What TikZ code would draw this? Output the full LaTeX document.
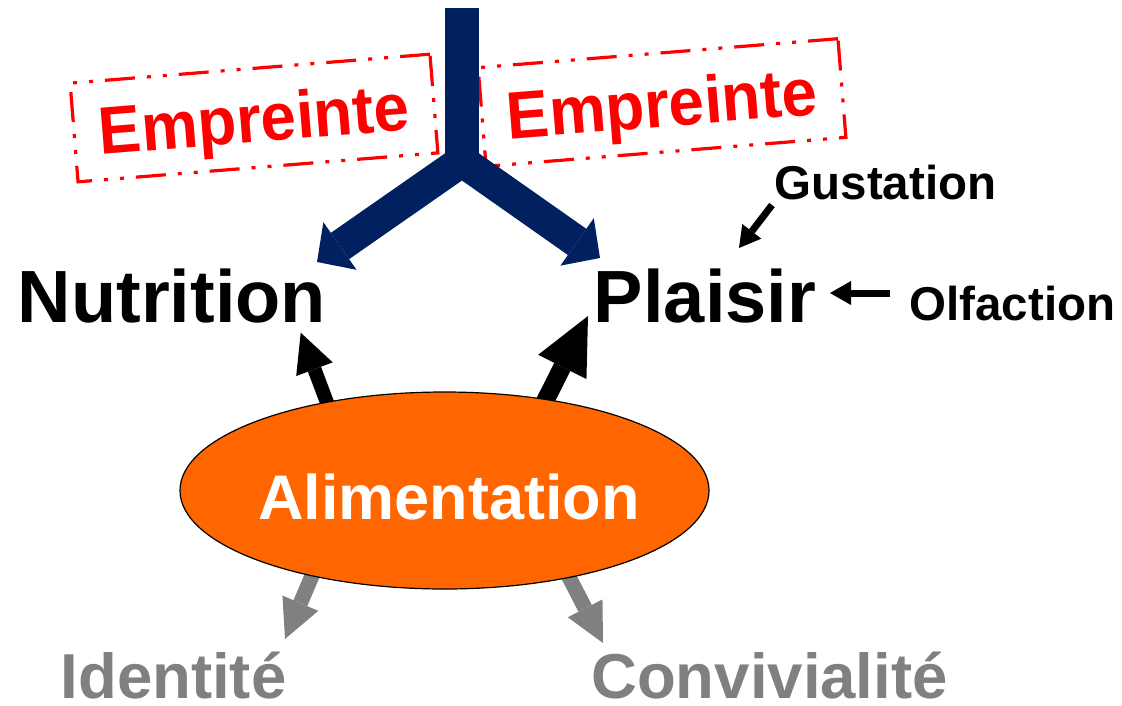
\documentclass[tikz,border=0pt]{standalone}
\usepackage{fontspec}
\usepackage{graphicx}
\setmainfont{Liberation Sans}
\usetikzlibrary{arrows.meta,shapes.geometric}
\definecolor{navyY}{RGB}{0,32,96}
\definecolor{orangeA}{RGB}{255,102,0}
\definecolor{grayT}{RGB}{128,128,128}
\definecolor{redS}{RGB}{255,0,0}
\pgfdeclarelayer{bg}
\pgfsetlayers{bg,main}
\newcommand{\stamptext}[1]{\scalebox{0.95}[1]{#1}}
\begin{document}
\begin{tikzpicture}[x=1pt,y=-1pt,
  lbl/.style={inner sep=0pt,anchor=base},
  bigtxt/.style={lbl,font=\bfseries\fontsize{74}{80}\selectfont},
  smalltxt/.style={lbl,font=\bfseries\fontsize{47.5}{50}\selectfont},
  greytxt/.style={lbl,text=grayT,font=\bfseries\fontsize{63.5}{68}\selectfont},
  stamp/.style={draw=redS,line width=3.2pt,
    dash pattern=on 30pt off 12pt on 4pt off 12pt on 4pt off 12pt,
    minimum width=361pt,minimum height=99pt,inner sep=0pt,rotate=4.6,
    text depth=0pt,
    text=redS,font=\bfseries\fontsize{67}{72}\selectfont},
  ybar/.style={draw=navyY,line width=34pt},
  ybranch/.style={draw=navyY,line width=32pt,-{Triangle[length=28pt,width=58pt,line width=0pt]}},
  blkA/.style={draw=black,line width=14pt,-{Triangle[length=39pt,width=39pt,line width=0pt]}},
  blkB/.style={draw=black,line width=18pt,-{Triangle[length=57pt,width=54pt,line width=0pt]}},
  gryA/.style={draw=grayT,line width=15pt,-{Triangle[length=39pt,width=39pt,line width=0pt]}},
  thinA/.style={draw=black,line width=7pt,-{Triangle[length=21pt,width=24pt,line width=0pt]}},
  ovalA/.style={ellipse,draw=black,line width=1.2pt,fill=orangeA,
    minimum width=529pt,minimum height=197pt,inner sep=0pt}
]
\useasboundingbox (0,0) rectangle (1122,705);

% stamps
\node[stamp] (emp1) at (254,118) {\stamptext{Empreinte}};
\node[stamp] (emp2) at (662,102.5) {\stamptext{Empreinte}};

% texts
\node[bigtxt] (nut) at (172,322) {Nutrition};
\node[bigtxt] (pla) at (705,322) {Plaisir};
\node[smalltxt] (gus) at (885.5,199.5) {Gustation};
\node[smalltxt] (olf) at (1012.5,320) {Olfaction};
\node[greytxt] (ide) at (173.5,698) {Identité};
\node[greytxt] (con) at (769.5,698) {Convivialité};

% ellipse
\node[ovalA] (ali) at (444.5,490.5) {};
\node[lbl,text=white,font=\bfseries\fontsize{63}{68}\selectfont] (aliT) at (449,519) {Alimentation};

% Y shape
\coordinate (ytop) at (462,8);
\coordinate (yj) at (462,161);
\coordinate (tipN) at (317,262);
\coordinate (tipP) at (600,258);
\draw[ybar] (ytop) -- (yj);
\draw[ybranch] (yj) -- (tipN);
\draw[ybranch] (yj) -- (tipP);

% arrows from ellipse
\coordinate (tipN2) at (300.7,332.7);
\coordinate (tipP2) at (588,316);
\coordinate (tipI) at (285,639);
\coordinate (tipC) at (603,643);
\begin{pgfonlayer}{bg}
\draw[blkA] ([shift={(3,8)}]ali.143) -- (tipN2);
\draw[blkB] ([shift={(-4,8)}]ali.42.3) -- (tipP2);
\draw[gryA] ([shift={(3,-8)}]ali.213.4) -- (tipI);
\draw[gryA] ([shift={(-4,-8)}]ali.-35) -- (tipC);
\end{pgfonlayer}

% small arrows
\coordinate (gA) at (772,205);
\coordinate (gB) at (739,248);
\coordinate (oA) at (890,293);
\coordinate (oB) at (830,293);
\draw[thinA] (gA) -- (gB);
\draw[thinA] (oA) -- (oB);
\end{tikzpicture}
\end{document}
